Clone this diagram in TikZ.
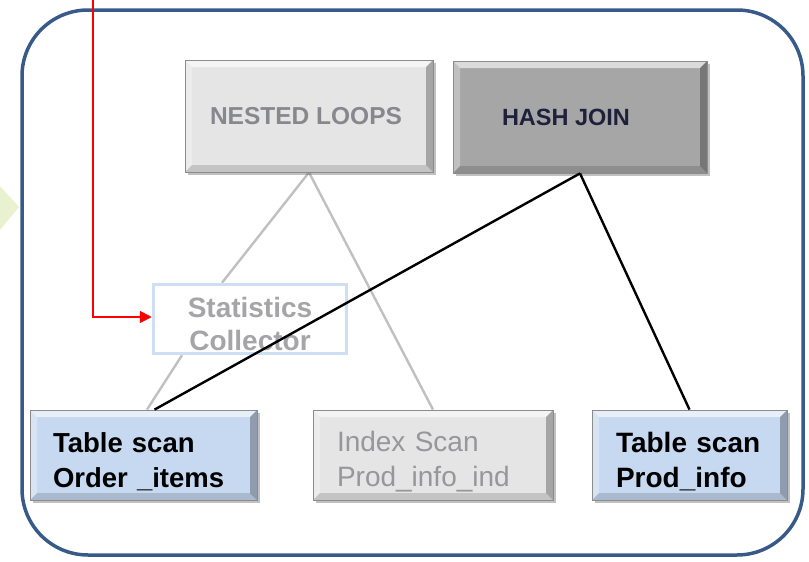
\documentclass[tikz,border=0pt]{standalone}
\usepackage{fontspec}
\setmainfont{Liberation Sans}
\usetikzlibrary{shadows,arrows.meta,calc,backgrounds}

\definecolor{frameblue}{RGB}{56,90,136}
\definecolor{lightbox}{RGB}{229,229,229}
\definecolor{darkbox}{RGB}{166,166,166}
\definecolor{scanblue}{RGB}{198,217,240}
\definecolor{statsedge}{RGB}{206,222,243}
\definecolor{paletext}{RGB}{135,135,142}
\definecolor{statstext}{RGB}{165,165,168}
\definecolor{indextext}{RGB}{150,150,155}
\definecolor{joinink}{RGB}{30,32,60}
\definecolor{pastgreen}{RGB}{233,242,208}
\definecolor{linkgrey}{RGB}{192,192,192}

% raised-button faces painted inside a box
\newcommand\bevelfaces{%
  \fill[white,opacity=.6]
    (path picture bounding box.north west) -- (path picture bounding box.north east)
    -- ([shift={(-7pt,-7pt)}]path picture bounding box.north east)
    -- ([shift={(7pt,-7pt)}]path picture bounding box.north west) -- cycle;
  \fill[white,opacity=.3]
    (path picture bounding box.north west) -- (path picture bounding box.south west)
    -- ([shift={(7pt,7pt)}]path picture bounding box.south west)
    -- ([shift={(7pt,-7pt)}]path picture bounding box.north west) -- cycle;
  \fill[black,opacity=.28]
    (path picture bounding box.north east) -- (path picture bounding box.south east)
    -- ([shift={(-7pt,7pt)}]path picture bounding box.south east)
    -- ([shift={(-7pt,-7pt)}]path picture bounding box.north east) -- cycle;
  \fill[black,opacity=.14]
    (path picture bounding box.south west) -- (path picture bounding box.south east)
    -- ([shift={(-7pt,7pt)}]path picture bounding box.south east)
    -- ([shift={(7pt,7pt)}]path picture bounding box.south west) -- cycle;
}
% extra room above the first line of a two-line label
\newcommand\topgap[1]{\rule{0pt}{#1}}

\tikzset{
  button/.style={inner sep=0pt, draw=black!45, line width=0.8pt,
    path picture={\bevelfaces},
    drop shadow={shadow xshift=3pt, shadow yshift=-3pt, opacity=.35, fill=black!70}},
  joinbox/.style={button, font=\bfseries\fontsize{24.5}{28}\selectfont,
    minimum height=112pt},
  scanbox/.style={button, align=left, minimum height=90pt,
    font=\fontsize{28}{35}\selectfont},
  statsbox/.style={draw=statsedge, line width=3.5pt, fill=white, inner sep=0pt,
    minimum width=193pt, minimum height=69pt, align=center,
    font=\bfseries\fontsize{28}{33}\selectfont, text=statstext},
  greylink/.style={draw=linkgrey, line width=2.4pt},
  blacklink/.style={draw=black, line width=2.4pt},
  feedback/.style={draw=red, line width=1.8pt, -{Triangle[length=12pt,width=12pt]}},
}

\begin{document}
\begin{tikzpicture}[x=1pt, y=-1pt]
\useasboundingbox (0,0) rectangle (809,562);

% tip of the preceding step's arrow
\fill[pastgreen] (0,186) -- (19,207) -- (0,230) -- cycle;

% plan frame
\draw[frameblue, line width=3.5pt, rounded corners=66pt] (22,10) rectangle (803,555);

% operators
\node[joinbox, fill=lightbox, text=paletext, minimum width=248pt] (nl) at (309,116)
  {\raisebox{-3pt}{NESTED LOOPS}\kern6pt};
\node[joinbox, fill=darkbox, text=joinink, minimum width=254pt,
      font=\bfseries\fontsize{23.5}{28}\selectfont] (hj) at (580,117)
  {\raisebox{-2pt}{HASH JOIN}\kern28pt};

\node[scanbox, fill=scanblue, minimum width=227pt, text width=181pt,
      font=\bfseries\fontsize{27.5}{35}\selectfont] (oi) at (143.5,455)
  {\topgap{34pt}Table scan\\Order \_items};
\node[scanbox, fill=lightbox, text=indextext, minimum width=240pt, text width=192pt] (is) at (433,455)
  {\topgap{34pt}Index Scan\\Prod\_info\_ind};
\node[scanbox, fill=scanblue, minimum width=195pt, text width=147pt,
      font=\bfseries\fontsize{28}{35}\selectfont] (pi) at (689.5,455)
  {\topgap{34pt}Table scan\\Prod\_info};

\node[statsbox] (stats) at (250,319) {\topgap{30pt}Statistics\\Collector};

% inactive nested-loops branches, passing behind the collector
\begin{scope}[on background layer]
\draw[greylink] (nl.south) -- ([xshift=-28pt]stats.north);
\draw[greylink] (nl.south) -- (is.north);
\draw[greylink] ([xshift=-68pt]stats.south) -- ([xshift=3.5pt]oi.north);
\end{scope}

% active hash-join branches
\draw[blacklink] (hj.south) -- ([xshift=11pt]oi.north);
\draw[blacklink] (hj.south) -- (pi.north);

% statistics feedback
\coordinate (fbtop) at (93,0);
\draw[feedback] (fbtop) |- ([yshift=2pt]stats.west);
\end{tikzpicture}
\end{document}
